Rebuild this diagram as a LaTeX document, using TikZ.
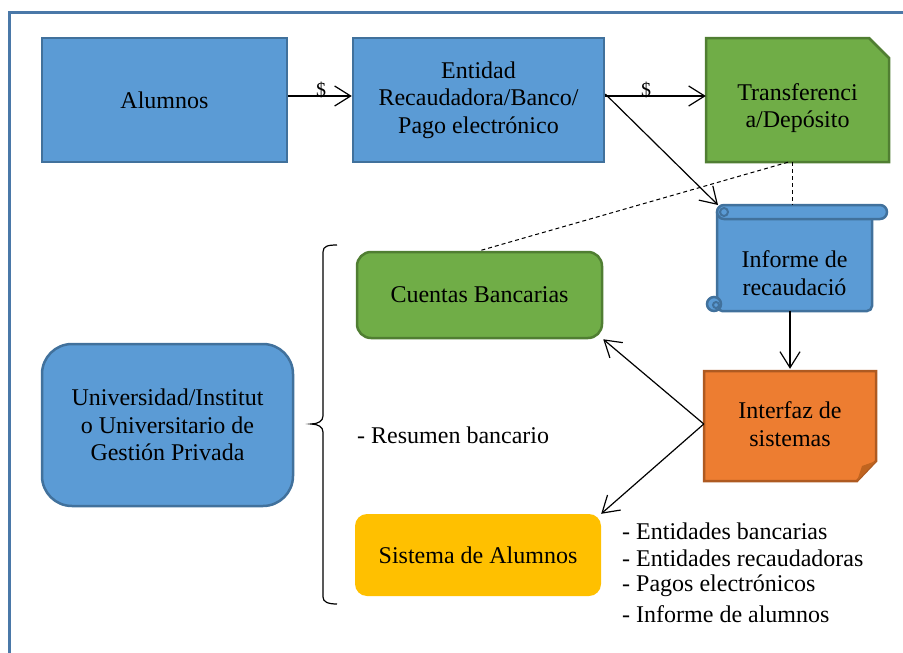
\documentclass[tikz,border=0pt]{standalone}
\usepackage{fontspec}
\setmainfont{Liberation Serif}
\usetikzlibrary{arrows.meta}
\definecolor{bfill}{HTML}{5B9BD5}
\definecolor{bline}{HTML}{41719C}
\definecolor{gfill}{HTML}{70AD47}
\definecolor{gline}{HTML}{507E32}
\definecolor{ofill}{HTML}{ED7D31}
\definecolor{oline}{HTML}{AE5A21}
\definecolor{odark}{HTML}{C0641F}
\definecolor{yfill}{HTML}{FFC000}
\definecolor{frame}{HTML}{4A78A8}
\tikzset{
  txt/.style={font=\fontsize{24}{27.6}\selectfont, align=center, inner sep=0pt, text=black},
  bluebox/.style={txt, draw=bline, fill=bfill, line width=2.5pt},
  greenbox/.style={txt, draw=gline, fill=gfill, line width=2.5pt},
  shapeonly/.style={txt, draw=none},
  arr/.style={line width=1.2pt, -{Straight Barb[length=16pt,width=20pt,line width=1.2pt]}},
  dsh/.style={line width=1pt, dash pattern=on 4pt off 3pt},
  lbl/.style={font=\fontsize{24}{27.6}\selectfont, inner sep=0pt, anchor=west},
  dollar/.style={font=\fontsize{20}{22}\selectfont, inner sep=0pt}
}
\begin{document}
\begin{tikzpicture}[x=1pt,y=-1pt]
\useasboundingbox (0,0) rectangle (903,653);
% frame
\draw[frame, line width=3pt] (9.5,653) -- (9.5,12) -- (903,12);

% Alumnos and Entidad
\node[bluebox, minimum width=245pt, minimum height=124pt] (alu) at (164.5,100) {Alumnos};
\node[bluebox, minimum width=251pt, minimum height=124pt] (ent) at (478.5,100) {Entidad\\Recaudadora/Banco/\\Pago electrónico};

% Transferencia (snipped corner)
\filldraw[fill=gfill, draw=gline, line width=2.5pt] (706,38) -- (869,38) -- (889,58) -- (889,162) -- (706,162) -- cycle;
\node[shapeonly, minimum width=183pt, minimum height=124pt] (tra) at (797.5,100) {};
\node[txt] (tratext) at (797.5,108) {Transferenci\\a/Depósito};

% Informe de recaudación (horizontal scroll)
\filldraw[fill=bfill, draw=bline, line width=2.5pt, rounded corners=5pt] (717,212) -- (717,311) -- (872,311) -- (872,212);
\filldraw[fill=bfill, draw=bline, line width=2.5pt, rounded corners=7pt] (717,205) rectangle (887,219);
\draw[bline, line width=2pt] (724,212) circle (4);
\filldraw[fill=bfill, draw=bline, line width=2.5pt] (714,304) circle (7);
\draw[bline, line width=2pt] (716,305) circle (3);
\node[shapeonly, minimum width=155pt, minimum height=92pt] (inf) at (794.5,265) {};
\node[txt] (inftext) at (794.5,273) {Informe de\\recaudació};
\coordinate (infTL) at (718,205);
\coordinate (infTop) at (792,205);

% Cuentas Bancarias
\node[greenbox, rounded corners=14pt, minimum width=245pt, minimum height=86pt] (cue) at (479.5,295) {Cuentas Bancarias};

% Universidad
\node[bluebox, rounded corners=30pt, minimum width=251pt, minimum height=162pt] (uni) at (167.5,425) {Universidad/Institut\\o Universitario de\\Gestión Privada};

% Interfaz de sistemas (folded corner)
\filldraw[fill=ofill, draw=oline, line width=2.5pt] (704,371) -- (876,371) -- (876,461) -- (857,481) -- (704,481) -- cycle;
\fill[odark] (857,481) -- (862,466) -- (876,461) -- cycle;
\node[shapeonly, minimum width=172pt, minimum height=110pt] (itf) at (790,424) {Interfaz de\\sistemas};

% Sistema de Alumnos
\node[txt, fill=yfill, rounded corners=12pt, minimum width=246pt, minimum height=82pt] (sis) at (478,555) {Sistema de Alumnos};

% brace
\draw[line width=1.2pt] (337,245) .. controls (328,245) and (323,246) .. (323,252) -- (323,416) .. controls (323,421) and (318,424) .. (311,424) .. controls (318,424) and (323,427) .. (323,432) -- (323,597) .. controls (323,602) and (328,604) .. (337,604);

% texts
\node[lbl] (res) at (357,435) {- Resumen bancario};
\node[lbl] (l1) at (622,531) {- Entidades bancarias};
\node[lbl] (l2) at (622,558) {- Entidades recaudadoras};
\node[lbl] (l3) at (622,586) {- Pagos electrónicos};
\node[lbl] (l4) at (622,614) {- Informe de alumnos};

% connectors
\node[dollar] (d1) at (321,90) {\$};
\node[dollar] (d2) at (646,90) {\$};
\draw[arr] ([yshift=4pt]alu.east) -- ([yshift=4pt]ent.west);
\draw[arr] ([yshift=4pt]ent.east) -- ([yshift=4pt]tra.west);
\draw[arr] ([yshift=6pt]ent.east) -- (infTL);
\draw[dsh] ([xshift=-5.5pt]tra.south) -- (infTop);
\draw[dsh] ([xshift=-9.5pt]tra.south) -- (cue.north);
\draw[arr] (inf.south -| itf.north) -- (itf.north);
\draw[arr] (itf.west) -- (cue.south east);
\draw[arr] (itf.west) -- (sis.north east);
\end{tikzpicture}
\end{document}
